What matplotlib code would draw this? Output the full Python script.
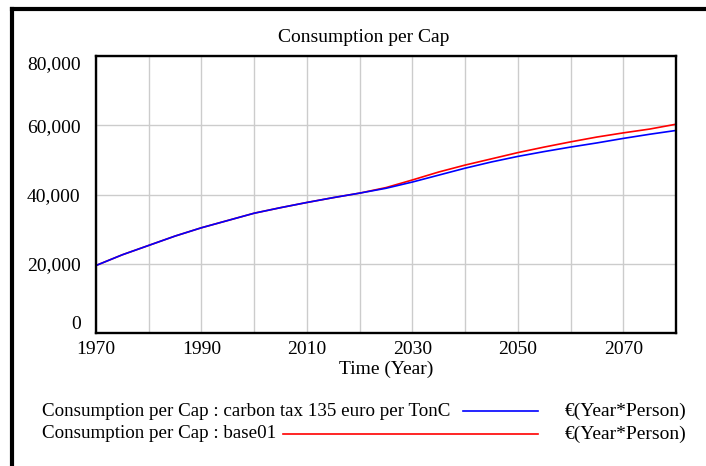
import matplotlib
matplotlib.use("Agg")
import matplotlib.pyplot as plt
from matplotlib.lines import Line2D
from matplotlib.ticker import FuncFormatter

plt.rcParams['font.family'] = ['Liberation Serif', 'DejaVu Serif']

# データ
years = [1970, 1975, 1980, 1985, 1990, 1995, 2000, 2005, 2010, 2015, 2020, 2025,
         2030, 2035, 2040, 2045, 2050, 2055, 2060, 2065, 2070, 2075, 2080]
carbon_tax = [19500, 22600, 25300, 28000, 30400, 32500, 34600, 36200, 37700, 39100, 40400, 41800,
              43600, 45600, 47600, 49400, 51000, 52400, 53700, 54900, 56200, 57400, 58500]
base01 = [19500, 22600, 25300, 28000, 30400, 32500, 34600, 36200, 37700, 39100, 40400, 42000,
          44200, 46500, 48500, 50300, 52100, 53700, 55200, 56600, 57800, 58900, 60300]

x_ticks = [1970, 1990, 2010, 2030, 2050, 2070]
x_grid = [1980, 2000, 2020, 2040, 2060, 2080]
y_ticks = [0, 20000, 40000, 60000, 80000]

series_names = ['Consumption per Cap : carbon tax 135 euro per TonC',
                'Consumption per Cap : base01']
unit = '€(Year*Person)'

fig = plt.figure(figsize=(7.06, 4.66), dpi=100)
ax = fig.add_axes([0.136, 0.2854, 0.8215, 0.5944])

ax.plot(years, base01, color='#ff0000', lw=1.2)
ax.plot(years, carbon_tax, color='#0000ff', lw=1.2)

ax.set_xlim(1970, 2080)
ax.set_ylim(0, 80000)
ax.set_xticks(x_ticks)
ax.set_xticks(x_grid, minor=True)
ax.set_yticks(y_ticks)
ax.yaxis.set_major_formatter(FuncFormatter(lambda v, p: f'{int(v):,}'))
ax.grid(True, which='both', color='#cccccc', lw=1.0)
ax.set_axisbelow(True)
ax.tick_params(which='both', length=0, labelsize=14)
ax.tick_params(axis='y', pad=11)
ax.tick_params(axis='x', pad=6)
for s in ax.spines.values():
    s.set_linewidth(1.7)
    s.set_color('black')

# 端のラベルは軸の内側に寄せる
fig.canvas.draw()
ylabels = ax.get_yticklabels()
ylabels[0].set_verticalalignment('bottom')
ylabels[-1].set_verticalalignment('top')

fig.text(0.515, 0.9206, 'Consumption per Cap', fontsize=14, ha='center', va='center')
ax.set_xlabel('Time (Year)', fontsize=14, labelpad=2)

# 凡例（Vensim風）
leg_y = [0.118, 0.0687]
line_start = [0.656, 0.401]
colors = ['#0000ff', '#ff0000']
for name, y, x0, c in zip(series_names, leg_y, line_start, colors):
    fig.text(0.0595, y, name, fontsize=13.7, va='center')
    fig.add_artist(Line2D([x0, 0.762], [y, y], color=c, lw=1.2))
    fig.text(0.800, y, unit, fontsize=14, va='center')

# 外枠
fig.add_artist(Line2D([0.017, 1.0], [0.9807, 0.9807], color='black', lw=3))
fig.add_artist(Line2D([0.017, 0.017], [0.0, 0.9807], color='black', lw=3))

fig.savefig('out.png', dpi=100)
